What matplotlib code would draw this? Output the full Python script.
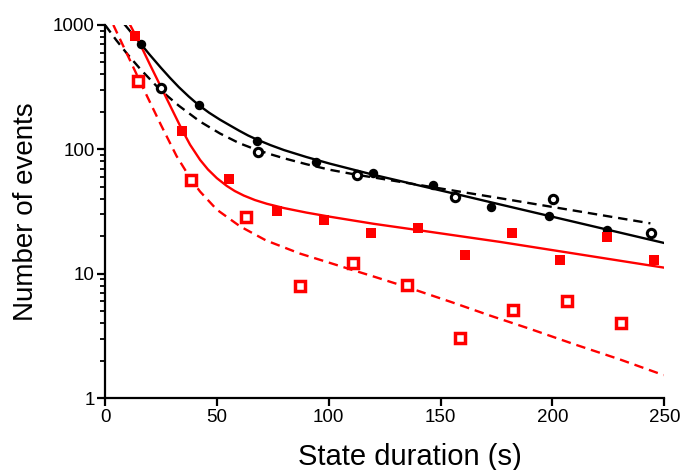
import matplotlib
matplotlib.use('Agg')
import matplotlib.pyplot as plt
from matplotlib.ticker import FixedLocator, LogLocator, NullFormatter, FixedFormatter

plt.rcParams['font.family'] = ['Liberation Sans', 'DejaVu Sans']

# measured points (state duration in s, number of events)
black_filled_x = [16.1, 42.1, 68.1, 94.5, 120, 146.4, 172.5, 198.6, 224.5]
black_filled_y = [703, 227, 117, 79, 64.5, 51.7, 34.2, 29.1, 22.4]

black_open_x = [25.1, 68.4, 112.5, 156.5, 200.4, 244.2]
black_open_y = [310, 95.7, 62.5, 41.4, 40.1, 21.1]

red_filled_x = [13.4, 34.5, 55.6, 76.8, 97.7, 118.7, 139.9, 161, 181.9, 203.3, 224.3, 245.5]
red_filled_y = [821, 139.6, 58, 32.1, 27.2, 21.1, 23.2, 14.1, 21.1, 13.0, 19.8, 13.0]

red_open_x = [14.9, 38.5, 62.9, 87.1, 110.7, 135, 158.9, 182.5, 206.7, 230.6]
red_open_y = [354, 56.7, 28.4, 8.0, 12.1, 8.1, 3.02, 5.07, 6.03, 4.01]

# fitted curves
black_fit_x = [8.9, 12, 15.7, 20, 25, 29, 33, 37.4, 41.7, 46.5, 51.4, 56, 60, 64, 67.8, 74, 80, 90,
               100.6, 120, 140, 160, 176.7, 200, 225, 249.7]
black_fit_y = [1000, 857, 713, 575, 452, 376, 316, 266, 228, 197, 173, 155, 141, 129, 120, 108, 98.6, 86.7,
               76.6, 62.4, 51.4, 42.4, 36.0, 28.7, 22.5, 17.7]

black_dash_x = [0, 5, 10, 16, 24.6, 33, 42.5, 51.4, 60, 67.8, 74, 80, 90, 100.6, 112.5, 120, 145, 176.7, 210, 243.8]
black_dash_y = [1000, 755, 582, 437, 301, 224, 167, 134, 112, 99, 91.2, 84.7, 75.9, 68.4, 62.4, 59.4, 50.1, 40.4, 32.1, 25.4]

red_fit_x = [11.2, 15, 20, 25, 30, 34.3, 38, 42.5, 46, 50, 54.4, 58, 62, 67, 72.3, 80, 90, 100.6, 120, 140,
             176.7, 210, 249.7]
red_fit_y = [1000, 743, 483, 317, 208, 145, 109, 82.2, 68.9, 58.6, 50.8, 46.2, 42.5, 39.1, 36.5, 33.7, 31.0, 28.7,
             25.2, 22.4, 18.0, 14.5, 11.2]

red_dash_x = [3.7, 10, 17.1, 25, 32, 38.5, 42.5, 50, 60.4, 72, 87.2, 100.6, 110.7, 120, 135, 155, 172.2, 190, 210,
              230, 249.7]
red_dash_y = [1000, 575, 309, 157, 88.1, 57.1, 45.7, 32.7, 24.0, 18.5, 14.5, 12.2, 10.7, 9.5, 7.8, 5.9, 4.6, 3.6, 2.7,
              2.05, 1.53]

fig = plt.figure(figsize=(6.82, 4.70), dpi=100)
ax = fig.add_axes([0.154, 0.153, 0.820, 0.794])

dash = (0, (4, 2.5))
ax.plot(black_fit_x, black_fit_y, color='black', lw=1.7, zorder=2)
ax.plot(black_dash_x, black_dash_y, color='black', lw=1.7, linestyle=dash, zorder=2)
ax.plot(red_fit_x, red_fit_y, color='red', lw=1.7, zorder=2)
ax.plot(red_dash_x, red_dash_y, color='red', lw=1.7, linestyle=dash, zorder=2)

ax.plot(black_filled_x, black_filled_y, 'o', color='black', ms=6.8, mew=0, zorder=3)
ax.plot(black_open_x, black_open_y, 'o', mfc='white', mec='black', ms=6, mew=2.2, zorder=3)
ax.plot(red_filled_x, red_filled_y, 's', color='red', ms=7, mew=0, zorder=3)
ax.plot(red_open_x, red_open_y, 's', mfc='white', mec='red', ms=6.5, mew=2.5, zorder=3)

ax.set_yscale('log')
ax.set_xlim(0, 250)
ax.set_ylim(1, 1000)

ax.xaxis.set_major_locator(FixedLocator([0, 50, 100, 150, 200, 250]))
ax.yaxis.set_major_locator(FixedLocator([1, 10, 100, 1000]))
ax.yaxis.set_major_formatter(FixedFormatter(['1', '10', '100', '1000']))
ax.yaxis.set_minor_locator(LogLocator(base=10, subs=range(2, 10)))
ax.yaxis.set_minor_formatter(NullFormatter())

for side in ['top', 'right']:
    ax.spines[side].set_visible(False)
for side in ['left', 'bottom']:
    ax.spines[side].set_linewidth(1.6)

ax.tick_params(which='major', direction='out', length=6, width=1.6, labelsize=13.5, pad=1.5)
ax.tick_params(which='minor', direction='out', length=3.5, width=1.3)

ax.set_xlabel('State duration (s)', fontsize=21, va='baseline')
ax.set_ylabel('Number of events', fontsize=20)
ax.xaxis.set_label_coords(0.546, -0.180)
ax.yaxis.set_label_coords(-0.118, 0.5)

fig.savefig('out.png', dpi=100)
